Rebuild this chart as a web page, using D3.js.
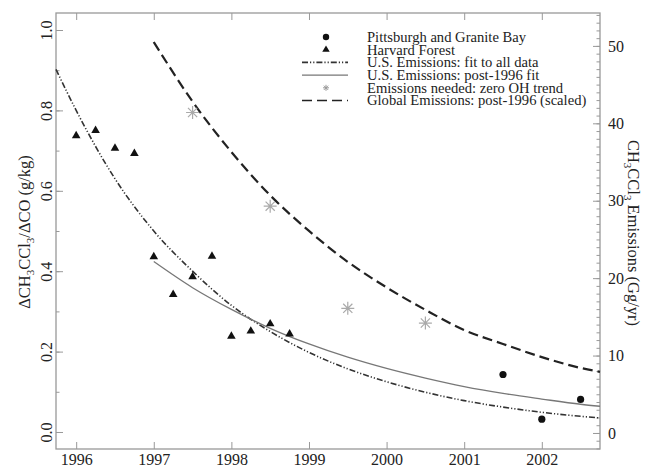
<!DOCTYPE html>
<html>
<head>
<meta charset="utf-8">
<script src="https://cdn.jsdelivr.net/npm/d3@7"></script>
<style>
  body { margin: 0; background: #fff; }
  svg text { font-family: "Liberation Serif", "Times New Roman", "DejaVu Serif", serif !important; fill: #222; }
</style>
</head>
<body>
<svg id="chart" width="646" height="471" font-family="Liberation Serif, serif"></svg>
<script>
// Harvard Forest (left axis, g/kg)
var harvardYears = [1996.0, 1996.25, 1996.5, 1996.75, 1997.0, 1997.25, 1997.5, 1997.75, 1998.0, 1998.25, 1998.5, 1998.75];
var harvardRatio = [0.737, 0.750, 0.706, 0.693, 0.436, 0.342, 0.386, 0.437, 0.238, 0.251, 0.269, 0.244];

// Pittsburgh and Granite Bay (left axis)
var pittYears = [2001.5, 2002.0, 2002.5];
var pittRatio = [0.143, 0.032, 0.081];

// Emissions needed: zero OH trend (right axis, Gg/yr)
var starYears = [1997.5, 1998.5, 1999.5, 2000.5];
var starEmis  = [41.4, 29.3, 16.1, 14.2];

// U.S. Emissions: fit to all data (left axis)
var fitAllYears = [1995.74, 1996.0, 1996.5, 1997.0, 1997.5, 1998.0, 1998.5, 1999.0, 1999.5, 2000.0, 2000.5, 2001.0, 2001.5, 2002.0, 2002.5, 2002.75];
var fitAllRatio = [0.902, 0.80, 0.63, 0.50, 0.40, 0.315, 0.25, 0.198, 0.157, 0.125, 0.099, 0.078, 0.062, 0.049, 0.039, 0.035];

// U.S. Emissions: post-1996 fit (left axis)
var postYears = [1997.0, 1997.5, 1998.0, 1998.5, 1999.0, 1999.5, 2000.0, 2000.5, 2001.0, 2001.5, 2002.0, 2002.5, 2002.75];
var postRatio = [0.424, 0.359, 0.305, 0.258, 0.219, 0.186, 0.158, 0.134, 0.113, 0.096, 0.082, 0.069, 0.064];

// Global Emissions: post-1996 (scaled) (right axis)
var globalYears = [1997.0, 1997.5, 1998.0, 1998.5, 1999.0, 1999.5, 2000.0, 2000.5, 2001.0, 2001.5, 2002.0, 2002.5, 2002.75];
var globalEmis  = [50.5, 42.8, 36.3, 30.7, 26.1, 22.1, 18.8, 15.9, 13.3, 11.5, 9.8, 8.4, 7.9];

var yearTicks  = [1996, 1997, 1998, 1999, 2000, 2001, 2002];
var leftTicks  = [0.0, 0.2, 0.4, 0.6, 0.8, 1.0];
var rightTicks = [0, 10, 20, 30, 40, 50];

var legendLabels = [
  "Pittsburgh and Granite Bay",
  "Harvard Forest",
  "U.S. Emissions: fit to all data",
  "U.S. Emissions: post-1996 fit",
  "Emissions needed: zero OH trend",
  "Global Emissions: post-1996 (scaled)"
];

var plot = {left: 56, right: 600, top: 13, bottom: 449};
var frameColor = "#999";
var serif = "Liberation Serif, Times New Roman, DejaVu Serif, serif";

var svg = d3.select("#chart");

var x  = d3.scaleLinear().domain([1995.74, 2002.75]).range([plot.left, plot.right]);
var yL = d3.scaleLinear().domain([-0.0423, 1.0423]).range([plot.bottom, plot.top]);
var yR = d3.scaleLinear().domain([-2.07, 54.25]).range([plot.bottom, plot.top]);

function zip(a, b) { return a.map(function(v, i) { return [v, b[i]]; }); }

// ---- axes (ticks point inward) ----
function styleAxis(g) {
  g.attr("font-family", serif);
  g.select(".domain").remove();
  g.selectAll(".tick line").attr("stroke", frameColor).attr("stroke-width", 1);
}

svg.append("g").attr("transform", "translate(0," + plot.bottom + ")")
  .call(d3.axisBottom(x).tickValues(yearTicks).tickSize(-7).tickPadding(5).tickFormat(d3.format("d")))
  .call(styleAxis)
  .selectAll("text").style("font-size", "16px").attr("fill", "#222");

svg.append("g").attr("transform", "translate(0," + plot.top + ")")
  .call(d3.axisTop(x).tickValues(yearTicks).tickSize(-7).tickFormat(""))
  .call(styleAxis);

// left: minor every 0.1, major every 0.2
svg.append("g").attr("transform", "translate(" + plot.left + ",0)")
  .call(d3.axisLeft(yL).tickValues(d3.range(0, 1.01, 0.1)).tickSize(-3.5).tickFormat(""))
  .call(styleAxis);
var leftAxis = svg.append("g").attr("transform", "translate(" + plot.left + ",0)")
  .call(d3.axisLeft(yL).tickValues(leftTicks).tickSize(-7).tickFormat(d3.format(".1f")))
  .call(styleAxis);
leftAxis.selectAll("text")
  .attr("transform", "rotate(-90)")
  .attr("x", 0).attr("y", -4).attr("dy", 0)
  .attr("text-anchor", "middle")
  .style("font-size", "16px");

// right: minor every 1, major every 10
svg.append("g").attr("transform", "translate(" + plot.right + ",0)")
  .call(d3.axisRight(yR).tickValues(d3.range(-2, 55, 1)).tickSize(-3.5).tickFormat(""))
  .call(styleAxis);
svg.append("g").attr("transform", "translate(" + plot.right + ",0)")
  .call(d3.axisRight(yR).tickValues(rightTicks).tickSize(-7).tickFormat(d3.format("d")))
  .call(styleAxis)
  .selectAll("text").style("font-size", "16px").attr("x", 8);

svg.append("rect")
  .attr("x", plot.left).attr("y", plot.top)
  .attr("width", plot.right - plot.left).attr("height", plot.bottom - plot.top)
  .attr("fill", "none").attr("stroke", frameColor).attr("stroke-width", 1.3);

// ---- axis titles ----
var lt = svg.append("text")
  .attr("transform", "translate(30,232) rotate(-90)")
  .attr("text-anchor", "middle").attr("font-family", serif).style("font-size", "16.5px");
lt.append("tspan").text("\u0394CH");
lt.append("tspan").attr("dy", 4).style("font-size", "11px").text("3");
lt.append("tspan").attr("dy", -4).text("CCl");
lt.append("tspan").attr("dy", 4).style("font-size", "11px").text("3");
lt.append("tspan").attr("dy", -4).text("/\u0394CO (g/kg)");

var rt = svg.append("text")
  .attr("transform", "translate(628,233) rotate(90)")
  .attr("text-anchor", "middle").attr("font-family", serif).style("font-size", "16.5px");
rt.append("tspan").text("CH");
rt.append("tspan").attr("dy", 4).style("font-size", "11px").text("3");
rt.append("tspan").attr("dy", -4).text("CCl");
rt.append("tspan").attr("dy", 4).style("font-size", "11px").text("3");
rt.append("tspan").attr("dy", -4).text(" Emissions (Gg/yr)");

// ---- curves ----
var lineL = d3.line().x(function(d) { return x(d[0]); }).y(function(d) { return yL(d[1]); }).curve(d3.curveMonotoneX);
var lineR = d3.line().x(function(d) { return x(d[0]); }).y(function(d) { return yR(d[1]); }).curve(d3.curveMonotoneX);

var styles = {
  fitAll: {stroke: "#333", width: 1.6, dash: "6,2,1.2,2,1.2,2"},
  post:   {stroke: "#777", width: 1.3, dash: null},
  global: {stroke: "#222", width: 2.2, dash: "10,5"}
};

function drawCurve(path, st) {
  svg.append("path").attr("d", path).attr("fill", "none")
    .attr("stroke", st.stroke).attr("stroke-width", st.width)
    .attr("stroke-dasharray", st.dash);
}
drawCurve(lineL(zip(fitAllYears, fitAllRatio)), styles.fitAll);
drawCurve(lineL(zip(postYears, postRatio)), styles.post);
drawCurve(lineR(zip(globalYears, globalEmis)), styles.global);

// ---- markers ----
function starPath(r) {
  var p = "";
  for (var a = 0; a < 4; a++) {
    var ang = a * Math.PI / 4;
    var dx = r * Math.cos(ang), dy = r * Math.sin(ang);
    p += "M" + (-dx) + "," + (-dy) + "L" + dx + "," + dy;
  }
  return p;
}

svg.append("g").selectAll("path").data(zip(starYears, starEmis)).enter().append("path")
  .attr("transform", function(d) { return "translate(" + x(d[0]) + "," + yR(d[1]) + ")"; })
  .attr("d", starPath(6.5)).attr("stroke", "#aaa").attr("stroke-width", 1.2).attr("fill", "none");

var tri = d3.symbol().type(d3.symbolTriangle).size(32);
svg.append("g").selectAll("path").data(zip(harvardYears, harvardRatio)).enter().append("path")
  .attr("transform", function(d) { return "translate(" + x(d[0]) + "," + yL(d[1]) + ")"; })
  .attr("d", tri).attr("fill", "#111");

svg.append("g").selectAll("circle").data(zip(pittYears, pittRatio)).enter().append("circle")
  .attr("cx", function(d) { return x(d[0]); })
  .attr("cy", function(d) { return yL(d[1]); })
  .attr("r", 3.6).attr("fill", "#111");

// ---- legend ----
var lg = svg.append("g");
var rowY = function(i) { return 37 + i * 12.7; };
var symX = 326, lineX0 = 302, lineX1 = 348, textX = 367;

lg.append("circle").attr("cx", symX).attr("cy", rowY(0)).attr("r", 3.2).attr("fill", "#111");
lg.append("path").attr("transform", "translate(" + symX + "," + rowY(1) + ")")
  .attr("d", d3.symbol().type(d3.symbolTriangle).size(24)).attr("fill", "#111");
[["fitAll", 2], ["post", 3], ["global", 5]].forEach(function(s) {
  var st = styles[s[0]];
  lg.append("line").attr("x1", lineX0).attr("x2", lineX1)
    .attr("y1", rowY(s[1])).attr("y2", rowY(s[1]))
    .attr("stroke", st.stroke).attr("stroke-width", Math.min(st.width, 1.6))
    .attr("stroke-dasharray", st.dash);
});
lg.append("path").attr("transform", "translate(" + symX + "," + rowY(4) + ")")
  .attr("d", starPath(3)).attr("stroke", "#999").attr("stroke-width", 1).attr("fill", "none");

lg.selectAll("text").data(legendLabels).enter().append("text")
  .attr("x", textX).attr("y", function(d, i) { return rowY(i); })
  .attr("dy", "0.33em").attr("font-family", serif).style("font-size", "14.6px")
  .text(function(d) { return d; });
</script>
</body>
</html>
